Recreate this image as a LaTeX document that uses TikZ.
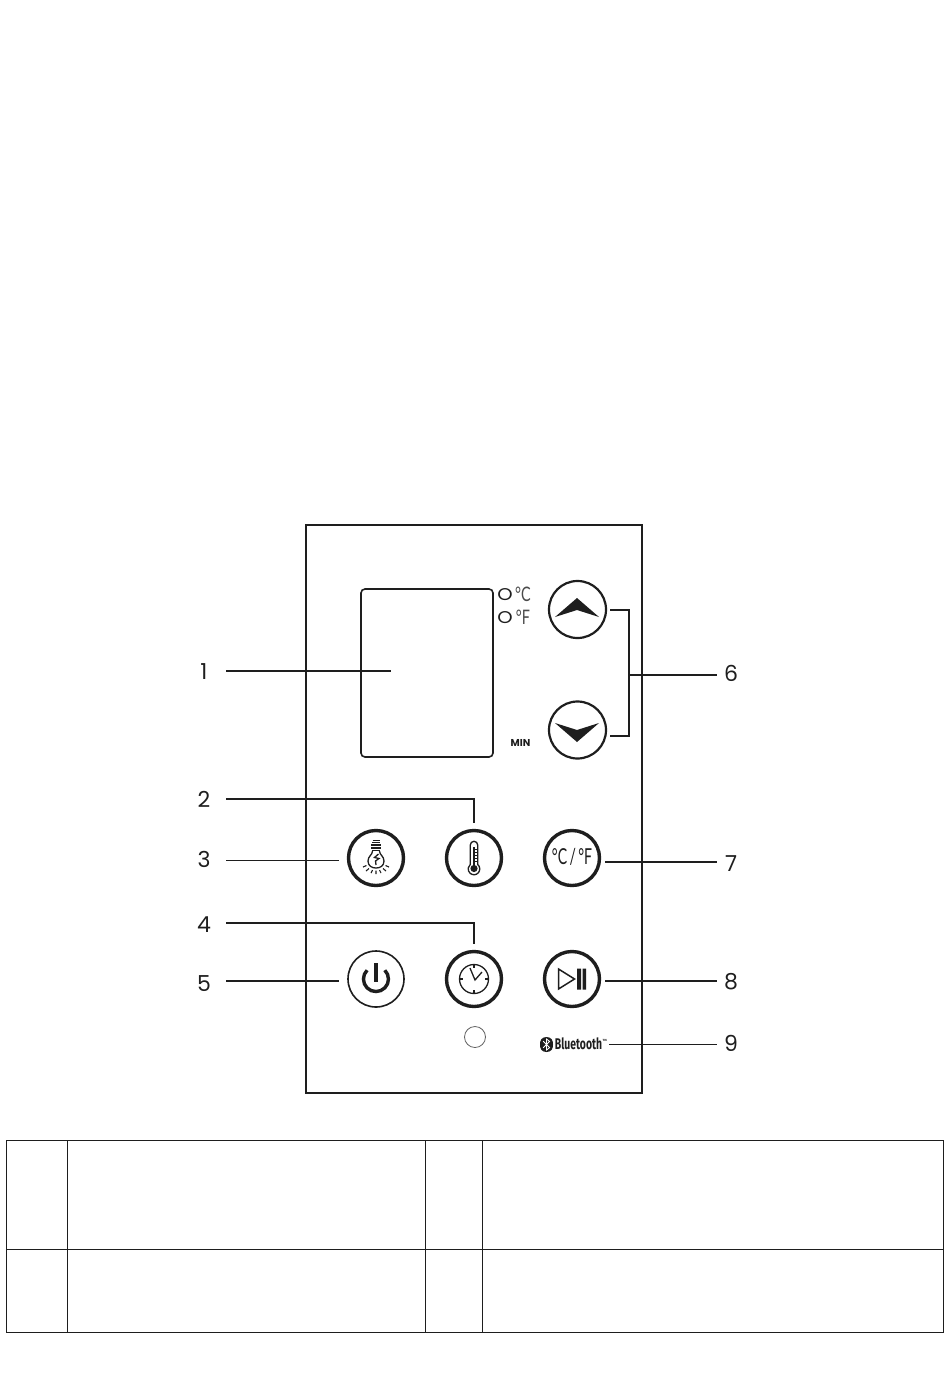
\documentclass[tikz,border=0pt]{standalone}
\usepackage{fontspec}
\setmainfont{Poppins}
\newfontfamily\lightf{Lato}
\newfontfamily\btf{Fira Sans}[UprightFont=* Bold]
\usetikzlibrary{calc}
\definecolor{ink}{HTML}{1E1E1E}
\newcommand{\rs}[2]{\raisebox{#1pt}[\height][\depth]{#2}}
\tikzset{
  x=1pt,y=-1pt,
  every path/.append style={color=ink},
  frame/.style={draw=ink,line width=1.5pt},
  lead/.style={draw=ink,line width=1.7pt},
  leadthin/.style={draw=ink,line width=0.9pt},
  numl/.style={font=\fontsize{22}{22}\selectfont,text=ink,inner sep=0pt,minimum width=44pt,minimum height=20pt},
  numr/.style={font=\fontsize{22}{22}\selectfont,text=ink,inner sep=0pt,minimum width=28pt,minimum height=20pt},
  btn/.style={circle,draw=ink,line width=3.4pt,minimum size=55pt,inner sep=0pt,outer sep=1.7pt},
  btnthin/.style={circle,draw=ink,line width=1.6pt,minimum size=56pt,inner sep=0pt,outer sep=1pt},
  icon/.style={draw=ink,line width=1.3pt},
  unitO/.style={font=\fontsize{17}{17}\selectfont,text=ink,inner sep=0pt,xscale=1.15},
  unitT/.style={font=\lightf\fontsize{20}{20}\selectfont,text=ink!80,inner sep=0pt,anchor=center,xscale=0.72},
}
\begin{document}
\begin{tikzpicture}
\useasboundingbox (0,0) rectangle (950,1387);
\fill[white] (0,0) rectangle (950,1387);
% panel
\node[frame,inner sep=0pt,minimum width=336pt,minimum height=568pt] (panel) at (474,809) {};
\node[draw=ink,line width=1.6pt,rounded corners=4pt,inner sep=0pt,minimum width=132pt,minimum height=168pt] (display) at (427,673) {};
% units
\node[unitO] (oc) at (505,594.5) {O};
\node[unitO] (of) at (505,617.5) {O};
\node[unitT] (tc) at (523,594) {°C};
\node[unitT] (tf) at (523,617) {°F};
\node[font=\bfseries\fontsize{10}{10}\selectfont,text=ink,inner sep=0pt] (minl) at (520.5,743) {MIN};
% buttons
\node[draw=ink,line width=2.2pt,circle,minimum size=57pt,inner sep=0pt] (up) at (577.5,609.5) {};
\node[draw=ink,line width=2.2pt,circle,minimum size=57pt,inner sep=0pt] (down) at (577.5,730) {};
\fill[ink] (555,617) -- (577,598) -- (599,617) -- (577,610) -- cycle;
\fill[ink] (555,723) -- (577,730) -- (599,723) -- (577,742) -- cycle;
\node[btn] (lamp) at (376,858) {};
\node[btn] (therm) at (474,858) {};
\node[btn] (cf) at (572,858) {};
\node[btnthin] (power) at (376,979) {};
\node[btn] (clock) at (474,979) {};
\node[btn] (play) at (572,979) {};
\node[circle,draw=ink!70,line width=0.8pt,minimum size=21pt,inner sep=0pt] (sensor) at (475,1037) {};
% lamp icon
\begin{scope}[shift={(376,858)}]
  \draw[icon] (-3.5,-7) .. controls (-3.5,-3) and (-8,-2) .. (-8,3) .. controls (-8,8) and (-4,10) .. (0,10) .. controls (4,10) and (8,8) .. (8,3) .. controls (8,-2) and (3.5,-3) .. (3.5,-7);
  \draw[line width=1pt] (-3.5,-18) -- (3.5,-18) (-4,-15.5) -- (4,-15.5);
  \draw[line width=1.6pt] (-5,-13) -- (5,-13) (-5,-10.3) -- (5,-10.3) (-4,-7.5) -- (4,-7.5);
  \draw[icon] (2.5,-4) -- (-1.5,-0.5) -- (3,0.5) -- (-0.5,3) -- (0,7);
  \draw[line width=1.1pt] (-13,9) -- (-9.5,7.5) (-10,13) -- (-7,10.5) (-5,15) -- (-3.5,12) (0,16) -- (0,12.5) (5,15) -- (3.5,12) (10,13) -- (7,10.5) (13,9) -- (9.5,7.5);
\end{scope}
% thermometer icon
\begin{scope}[shift={(474,858)}]
  \draw[icon] (-3.7,6.5) -- (-3.7,-13) arc[start angle=180,end angle=0,radius=3.7pt] -- (3.7,6.5) arc[start angle=50,end angle=-230,radius=5.8pt];
  \fill[ink] (0,10.5) circle (3.6pt);
  \draw[line width=1.6pt] (0,-11) -- (0,8);
  \draw[line width=0.9pt] (0,-9) -- (3,-9) (0,-6) -- (3,-6) (0,-3) -- (3,-3) (0,0) -- (3,0) (0,3) -- (3,3);
\end{scope}
% C/F label
\node[font=\lightf\fontsize{22}{22}\selectfont,text=ink,inner sep=0pt,xscale=0.64] (cftext) at (572,857) {°C\,/\,°F};
% power icon
\begin{scope}[shift={(376,979)}]
  \draw[line width=3.2pt] (0,-16) -- (0,3);
  \draw[line width=3.4pt] (8.8,-8.8) arc[start angle=45,end angle=-225,radius=12.5pt];
\end{scope}
% clock icon
\begin{scope}[shift={(474,979)}]
  \draw[icon] (0,0) circle (14.5pt);
  \draw[line width=1.3pt] (-4,-11) -- (1,1) -- (8,-7);
  \draw[line width=1.3pt] (0,-14.5) -- (0,-11) (0,14.5) -- (0,11) (-14.5,0) -- (-11,0) (14.5,0) -- (11,0);
\end{scope}
% play/pause icon
\begin{scope}[shift={(572,979)}]
  \draw[draw=ink,line width=1.5pt,line join=miter] (-13.5,-10) -- (2.5,0) -- (-13.5,10) -- cycle;
  \fill[ink] (5,-10.5) rectangle (9,10.5) (10.5,-10.5) rectangle (14,10.5);
\end{scope}
% bluetooth
\fill[ink] (546.5,1037) .. controls (552,1037) and (553,1041) .. (553,1044.5) .. controls (553,1048) and (552,1052) .. (546.5,1052) .. controls (541,1052) and (540,1048) .. (540,1044.5) .. controls (540,1041) and (541,1037) .. (546.5,1037) -- cycle;
\draw[white,line width=0.8pt] (543.2,1041.2) -- (549.6,1047.6) -- (546.5,1050) -- (546.5,1039) -- (549.6,1041.4) -- (543.2,1047.8);
\node[font=\btf\fontsize{15.5}{15.5}\selectfont,text=ink,inner sep=0pt,xscale=0.67] (bt) at (578.5,1044) {Bluetooth};
\node[font=\btf\fontsize{3}{3}\selectfont,text=ink,inner sep=0pt,anchor=west] (tm) at (602.5,1040) {TM};
% labels
\node[numl] (l1) at (204,671) {\rs{-1}{1}};
\node[numl] (l2) at (204,799) {2};
\node[numl] (l3) at (204,860) {\rs{1}{3}};
\node[numl] (l4) at (204,923) {\rs{-2}{4}};
\node[numl] (l5) at (204,981) {\rs{-3}{5}};
\node[numr] (l6) at (731,675) {\rs{2}{6}};
\node[numr] (l7) at (731,862) {\rs{-2}{7}};
\node[numr] (l8) at (731,981) {\rs{-1}{8}};
\node[numr] (l9) at (731,1044) {\rs{1}{9}};
% connectors
\coordinate (dispmid) at (391,671);
\coordinate (br) at (629,675);
\draw[lead] (l1.east) -- (dispmid);
\draw[lead,shorten >=6pt] (l2.east) -| (therm.north);
\draw[leadthin,shorten >=8pt] (l3.east) -- (l3.east -| lamp.west);
\draw[lead,shorten >=6pt] (l4.east) -| (clock.north);
\draw[lead,shorten >=8pt] (l5.east) -- (l5.east -| power.west);
\draw[lead] (l6.west) -- (br);
\draw[lead] ($(up.east)+(3,0.5)$) -| (br) |- ($(down.east)+(3,6)$);
\draw[lead,shorten >=4pt] (l7.west) -- (l7.west -| cf.east);
\draw[lead,shorten >=4pt] (l8.west) -- (l8.west -| play.east);
\draw[leadthin,shorten >=2pt] (l9.west) -- (l9.west -| tm.east);
% table
\draw[line width=0.9pt,draw=ink] (6,1140) rectangle (943,1332) (6,1249) -- (943,1249) (67,1140) -- (67,1332) (425,1140) -- (425,1332) (482,1140) -- (482,1332);
\end{tikzpicture}
\end{document}
